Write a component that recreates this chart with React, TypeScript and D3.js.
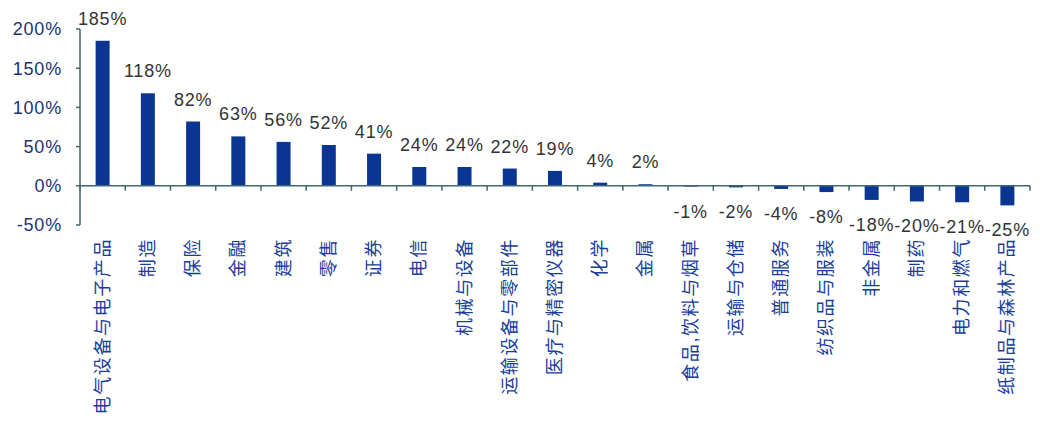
import React from 'react';
import * as d3 from 'd3';

const categories = [
  '电气设备与电子产品', '制造', '保险', '金融', '建筑', '零售', '证券', '电信',
  '机械与设备', '运输设备与零部件', '医疗与精密仪器', '化学', '金属',
  '食品,饮料与烟草', '运输与仓储', '普通服务', '纺织品与服装', '非金属',
  '制药', '电力和燃气', '纸制品与森林产品',
];
const values = [185, 118, 82, 63, 56, 52, 41, 24, 24, 22, 19, 4, 2, -1, -2, -4, -8, -18, -20, -21, -25];
const yTicks = [-50, 0, 50, 100, 150, 200];

const W = 1040;
const H = 424;
const left = 80;
const right = 1030;
const yTop = 29;
const yBottom = 225;

const font = '"Liberation Sans", Arial, "Noto Sans CJK SC", sans-serif';
const axisColor = '#3f6674';
const barColor = '#0a3592';

const App: React.FC = () => {
  const x = d3.scaleBand<string>().domain(categories).range([left, right]);
  const y = d3.scaleLinear().domain([-50, 200]).range([yBottom, yTop]);
  const y0 = y(0);
  const barW = 14;

  return (
    <svg width={W} height={H} style={{ position: 'absolute', left: 0, top: 0 }}>
      <rect width={W} height={H} fill="#fff" />
      {/* y axis */}
      <line x1={left} x2={left} y1={yTop} y2={yBottom} stroke={axisColor} strokeWidth={1.5} />
      {yTicks.map(t => (
        <g key={t}>
          <line x1={left - 4} x2={left} y1={y(t)} y2={y(t)} stroke={axisColor} strokeWidth={1.5} />
          <text x={left - 18} y={y(t)} dy="0.36em" textAnchor="end" fontFamily={font}
            fontSize={18} letterSpacing={0.8} fill="#1c3473">{t}%</text>
        </g>
      ))}
      {/* bars */}
      {categories.map((c, i) => {
        const v = values[i];
        const cx = x(c)! + x.bandwidth() / 2;
        return (
          <g key={c}>
            <rect x={cx - barW / 2} width={barW} y={Math.min(y(v), y0)}
              height={Math.abs(y(v) - y0)} fill={barColor} />
            <text x={cx} y={v >= 0 ? y(v) - 16 : y(v) + 31} textAnchor="middle"
              fontFamily={font} fontSize={18} letterSpacing={0.8} fill="#333">{v}%</text>
            <text transform={`translate(${cx + 6},238) rotate(-90)`} textAnchor="end"
              fontFamily={font} fontSize={18} letterSpacing={1.6} fill="#1a3d9c">{c}</text>
          </g>
        );
      })}
      {/* x axis */}
      <line x1={left} x2={right} y1={y0} y2={y0} stroke={axisColor} strokeWidth={1.5} />
      {d3.range(categories.length + 1).map(i => {
        const tx = left + i * x.step();
        return <line key={i} x1={tx} x2={tx} y1={y0} y2={y0 + 5} stroke={axisColor} strokeWidth={1.5} />;
      })}
    </svg>
  );
};

export default App;
